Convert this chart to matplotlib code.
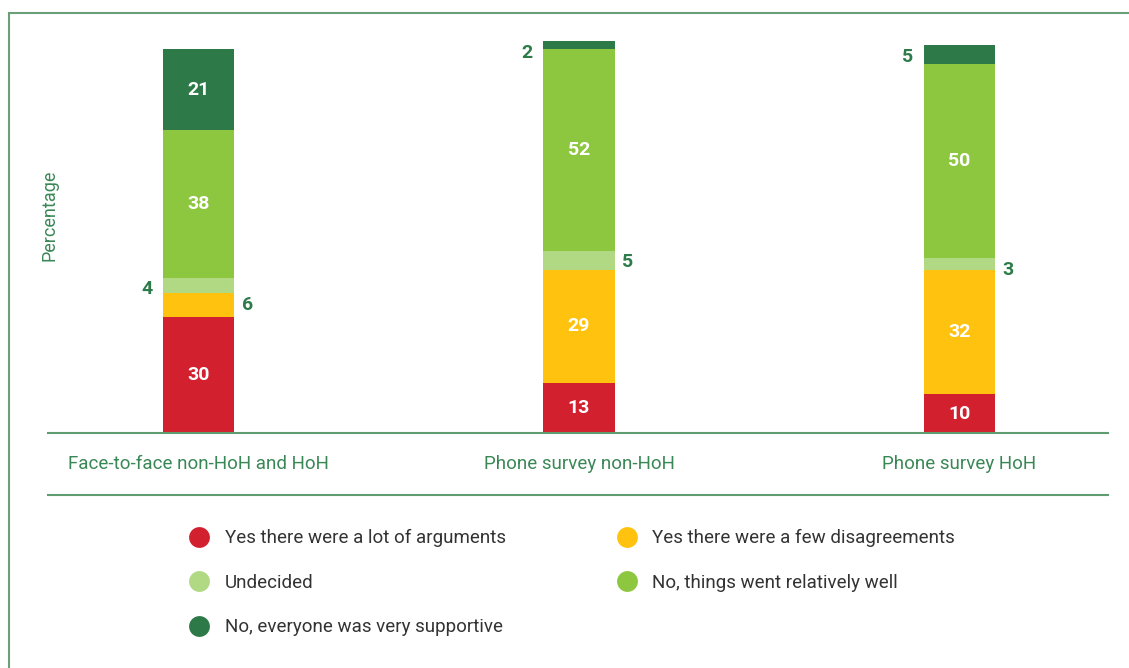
import matplotlib
matplotlib.use("Agg")
import matplotlib.pyplot as plt
from matplotlib.lines import Line2D
from matplotlib.patches import Rectangle
import numpy as np

plt.rcParams['font.family'] = ['Roboto', 'DejaVu Sans']

# survey groups and answers
groups = ['Face-to-face non-HoH and HoH', 'Phone survey non-HoH', 'Phone survey HoH']
answers = ['Yes there were a lot of arguments', 'Yes there were a few disagreements',
           'Undecided', 'No, things went relatively well', 'No, everyone was very supportive']

lot_of_arguments = [30, 13, 10]
few_disagreements = [6, 29, 32]
undecided = [4, 5, 3]
went_well = [38, 52, 50]
very_supportive = [21, 2, 5]

colors = ['#D2202F', '#FFC20E', '#B1D882', '#8DC63F', '#2D7A48']
green_txt = '#2E7B4A'
line_col = '#5F9C6F'

series = [lot_of_arguments, few_disagreements, undecided, went_well, very_supportive]

# which side the small values go on (per bar, per series index)
outside_side = {(0, 2): 'left', (0, 1): 'right',
                (1, 4): 'left', (1, 2): 'right',
                (2, 4): 'left', (2, 2): 'right'}

fig = plt.figure(figsize=(11.29, 6.68), dpi=100)
ax = fig.add_axes([48/1129, 1-433/668, 1060/1129, 403/668])

x = np.arange(len(groups))
w = 0.187
bottom = np.zeros(len(groups))
for si, vals in enumerate(series):
    vals = np.array(vals, dtype=float)
    ax.bar(x, vals, w, bottom=bottom, color=colors[si], linewidth=0)
    for bi in range(len(groups)):
        v = vals[bi]
        mid = bottom[bi] + v / 2
        side = outside_side.get((bi, si))
        if side is None:
            ax.text(x[bi], mid, '%d' % v, color='white', fontsize=14, fontweight='bold',
                    ha='center', va='center')
        else:
            top = bottom[bi] + v
            yy = min(mid, top - 3)
            if side == 'left':
                ax.annotate('%d' % v, (x[bi] - w/2, yy), xytext=(-16, 0), textcoords='offset pixels',
                            color=green_txt, fontsize=14, fontweight='bold', ha='center', va='center')
            else:
                ax.annotate('%d' % v, (x[bi] + w/2, yy), xytext=(13, 0), textcoords='offset pixels',
                            color=green_txt, fontsize=14, fontweight='bold', ha='center', va='center')
    bottom += vals

ax.set_xlim(-0.396, 2.391)
ax.set_ylim(0, 403/3.88)
for s in ['top', 'right', 'left']:
    ax.spines[s].set_visible(False)
ax.spines['bottom'].set_color(line_col)
ax.spines['bottom'].set_linewidth(1.5)
ax.set_yticks([])
ax.set_xticks(x)
ax.set_xticklabels(groups, color='#3A8756', fontsize=13.5)
ax.tick_params(axis='x', length=0, pad=16)
ax.set_ylabel('Percentage', color='#3A8756', fontsize=13)
ax.yaxis.set_label_coords(0.01, 0.54)

# lower rule under the group names
fig.add_artist(Line2D([48/1129, 1108/1129], [1-495/668, 1-495/668],
                      color=line_col, lw=1.5, transform=fig.transFigure))

# panel frame
fig.add_artist(Rectangle((9/1129, -0.05), 1.05, 1.05 - 13/668, transform=fig.transFigure,
                         fill=False, edgecolor='#6A9F78', lw=1.5))

order = [0, 2, 4, 1, 3]
handles = [Line2D([], [], marker='o', linestyle='none', markersize=15,
                  markerfacecolor=colors[i], markeredgewidth=0) for i in order]
labels = [answers[i] for i in order]
fig.legend(handles, labels, loc='upper left', bbox_to_anchor=(190/1129, 1-529/668),
           ncol=2, frameon=False, fontsize=13.5, labelcolor='#333333',
           handlelength=1.0, handletextpad=0.85, labelspacing=1.42,
           columnspacing=5.95, borderpad=0, borderaxespad=0)

fig.savefig('out.png', dpi=100)
